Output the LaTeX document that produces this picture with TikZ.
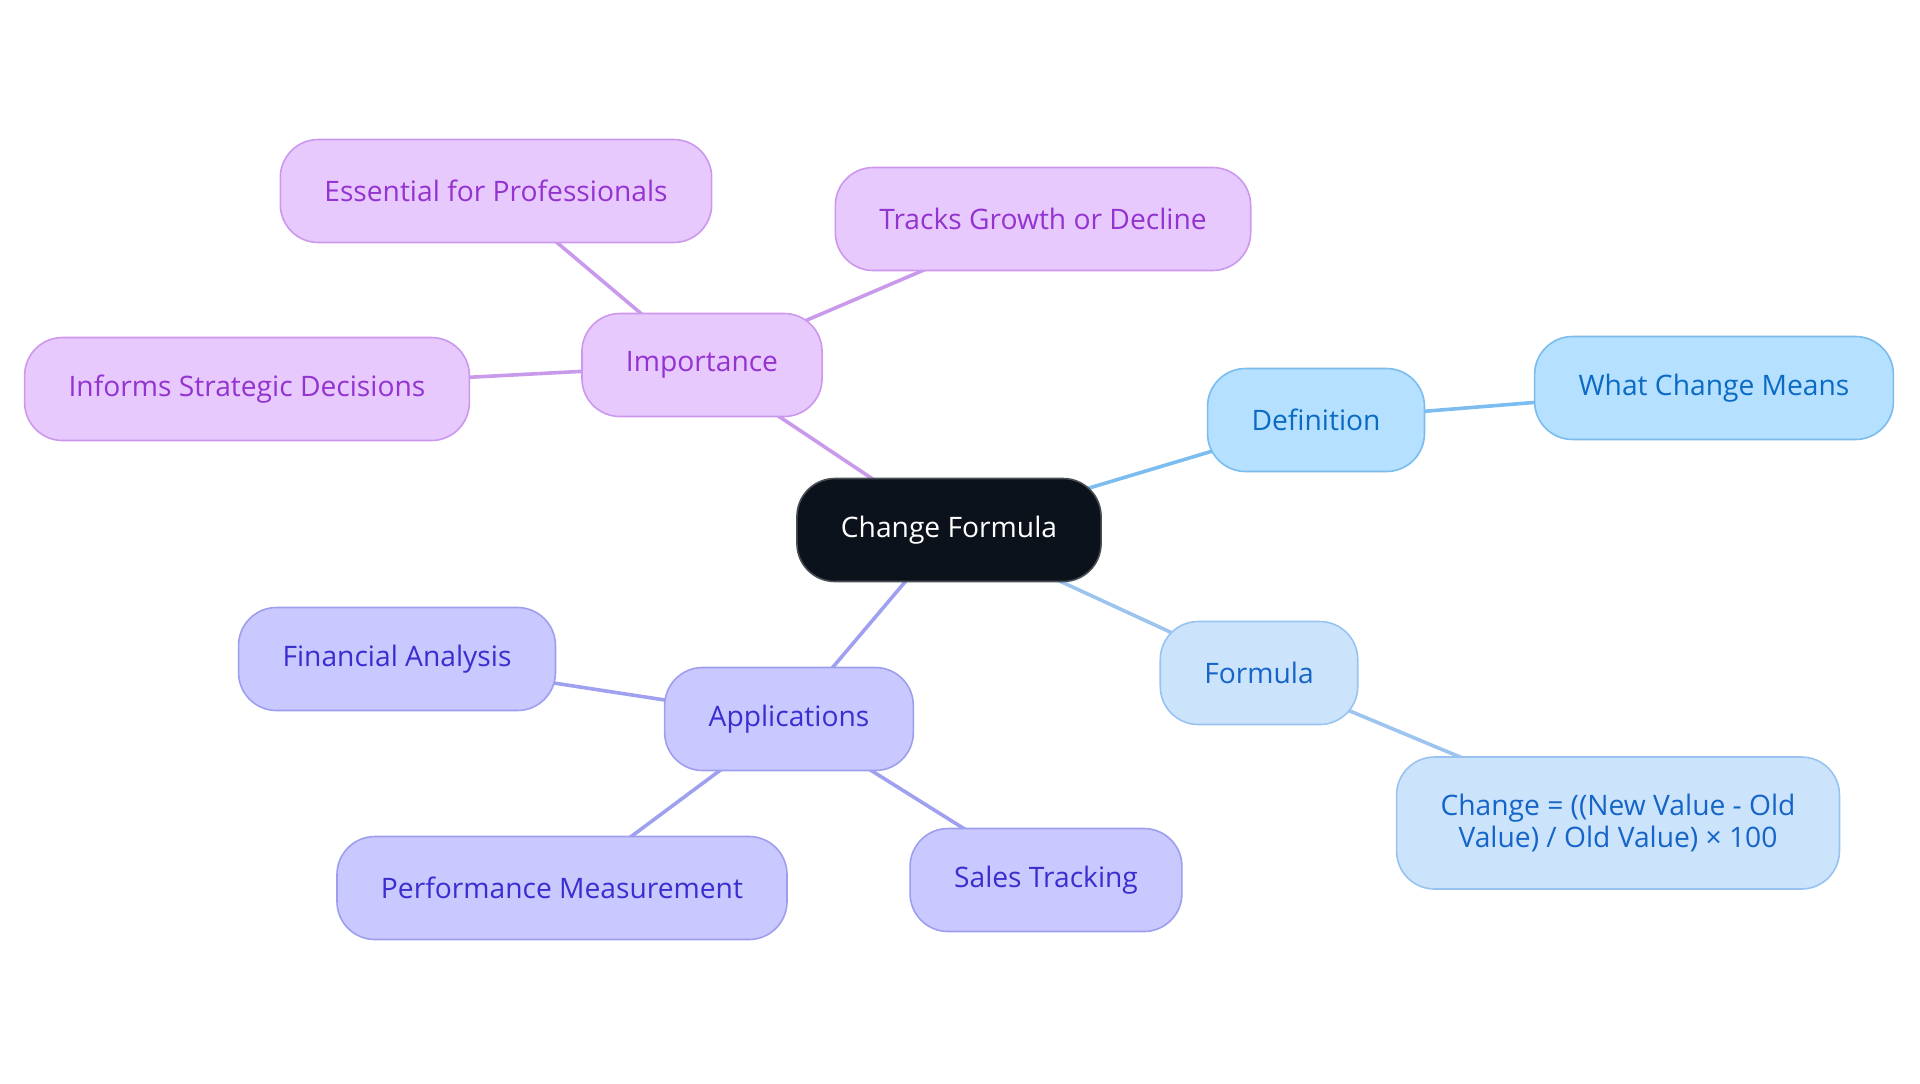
\documentclass[tikz,border=0pt]{standalone}
\usepackage{fontspec}
\setmainfont{Open Sans}
\usepackage{xcolor}
\usetikzlibrary{shapes.geometric, positioning, backgrounds, calc}

\definecolor{rootfill}{HTML}{0C121B}
\definecolor{rootdraw}{HTML}{4A4F55}
\definecolor{purfill}{HTML}{E8C9FE}
\definecolor{purdraw}{HTML}{CC98EE}
\definecolor{purtext}{HTML}{9333D0}
\definecolor{purline}{HTML}{C99AEB}
\definecolor{deffill}{HTML}{B5E0FF}
\definecolor{defdraw}{HTML}{7ABCEE}
\definecolor{deftext}{HTML}{0B6BC4}
\definecolor{defline}{HTML}{7BBDF0}
\definecolor{forfill}{HTML}{CCE3FC}
\definecolor{fordraw}{HTML}{98C3F0}
\definecolor{fortext}{HTML}{1565C8}
\definecolor{forline}{HTML}{9DC4EE}
\definecolor{appfill}{HTML}{C9C9FF}
\definecolor{appdraw}{HTML}{9E9EEF}
\definecolor{apptext}{HTML}{3A2ED0}
\definecolor{appline}{HTML}{A0A0F0}

\begin{document}
\begin{tikzpicture}[
    x=0.5pt, y=-0.5pt,
    topic/.style={rectangle, rounded corners=19pt, line width=0.8pt, minimum height=51.5pt, inner xsep=22pt, text centered, align=center, font=\fontsize{14.1}{16}\selectfont},
    root/.style={topic, fill=rootfill, draw=rootdraw, text=white},
    purnode/.style={topic, fill=purfill, draw=purdraw, text=purtext},
    defnode/.style={topic, fill=deffill, draw=defdraw, text=deftext},
    fornode/.style={topic, fill=forfill, draw=fordraw, text=fortext},
    appnode/.style={topic, fill=appfill, draw=appdraw, text=apptext},
    link/.style={line width=1.8pt}
]
\useasboundingbox (0,0) rectangle (1920,1083);

% Center node
\node[root] (change) at (949,530) {Change Formula};

% Importance branch
\node[purnode] (imp) at (702,365) {Importance};
\node[purnode] (ess) at (496,191) {Essential for Professionals};
\node[purnode] (tracks) at (1043,219) {Tracks Growth or Decline};
\node[purnode] (informs) at (247,389) {Informs Strategic Decisions};

% Definition branch
\node[defnode] (def) at (1316,420) {Definition};
\node[defnode] (means) at (1714,388) {What Change Means};

% Formula branch
\node[fornode] (formula) at (1259,673) {Formula};
\node[fornode, minimum height=66pt] (calc) at (1618,823) {Change = ((New Value - Old\\Value) / Old Value) × 100};

% Applications branch
\node[appnode] (apps) at (789,719) {Applications};
\node[appnode] (fin) at (397,659) {Financial Analysis};
\node[appnode] (perf) at (562,888) {Performance Measurement};
\node[appnode] (sales) at (1046,880) {Sales Tracking};

% Links
\begin{scope}[on background layer]
\draw[link, purline] (change.center) -- (imp.center);
\draw[link, purline] (imp.center) -- (ess.center);
\draw[link, purline] (imp.center) -- (tracks.center);
\draw[link, purline] (imp.center) -- (informs.center);
\draw[link, defline] (change.center) -- (def.center);
\draw[link, defline] (def.center) -- (means.center);
\draw[link, forline] (change.center) -- (formula.center);
\draw[link, forline] (formula.center) -- (calc.center);
\draw[link, appline] (change.center) -- (apps.center);
\draw[link, appline] (apps.center) -- (fin.center);
\draw[link, appline] (apps.center) -- (perf.center);
\draw[link, appline] (apps.center) -- (sales.center);
\end{scope}

\end{tikzpicture}
\end{document}
